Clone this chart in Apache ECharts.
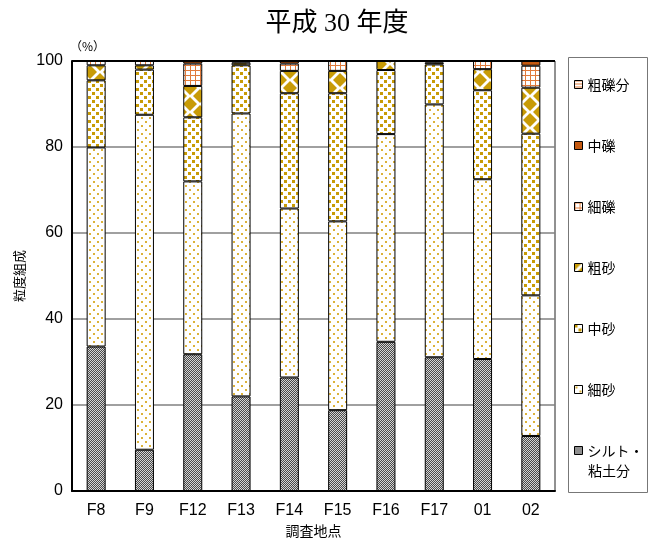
<!DOCTYPE html>
<html><head><meta charset="utf-8">
<script src="https://cdn.jsdelivr.net/npm/echarts@6/dist/echarts.min.js"></script>
<style>html,body{margin:0;padding:0;background:#fff}#c{width:650px;height:539px}</style>
</head><body><div id="c"></div>
<script>
// ---- data ----
var categories = ['F8','F9','F12','F13','F14','F15','F16','F17','01','02'];
var siltClay     = [33.6, 9.6, 31.8, 22.0, 26.4, 18.8, 34.7, 31.1, 30.7, 12.8];
var fineSand     = [46.3, 77.9, 40.2, 65.8, 39.3, 43.9, 48.3, 58.8, 41.8, 32.7];
var mediumSand   = [15.6, 10.5, 14.9, 11.2, 26.8, 29.8, 14.9, 9.3, 20.7, 37.6];
var coarseSand   = [3.5, 1.0, 7.3, 0.6, 5.2, 5.2, 2.1, 0.4, 4.9, 10.7];
var fineGravel   = [1.0, 1.0, 5.2, 0.4, 1.7, 2.3, 0.0, 0.4, 1.9, 5.1];
var mediumGravel = [0.0, 0.0, 0.6, 0.0, 0.6, 0.0, 0.0, 0.0, 0.0, 1.1];
var coarseGravel = [0, 0, 0, 0, 0, 0, 0, 0, 0, 0];
var seriesNames = ['シルト・粘土分','細砂','中砂','粗砂','細礫','中礫','粗礫分'];
var yTicks = [0, 20, 40, 60, 80, 100];

// ---- patterns ----
function mk(w, h, draw) {
  var c = document.createElement('canvas'); c.width = w; c.height = h;
  var g = c.getContext('2d'); g.fillStyle = '#fff'; g.fillRect(0, 0, w, h); draw(g);
  return { image: c, repeat: 'repeat' };
}
var GOLD = '#c89b06';
var pSilt = mk(2, 2, function (g) {
  g.fillStyle = '#4a4a4a'; g.fillRect(0, 0, 2, 2);
  g.fillStyle = '#d4d4d4'; g.fillRect(0, 0, 1, 1); g.fillRect(1, 1, 1, 1);
});
var pFine = mk(8, 8, function (g) {
  g.fillStyle = '#dcb23a'; g.fillRect(1, 1, 2, 2); g.fillRect(5, 5, 2, 2);
});
var pMed = mk(8, 8, function (g) {
  g.fillStyle = GOLD; g.fillRect(0, 0, 3, 3); g.fillRect(4, 4, 3, 3);
});
var pCoarse = mk(20, 16, function (g) {
  g.fillStyle = GOLD;
  function d(x, y) { g.beginPath(); g.moveTo(x, y - 7); g.lineTo(x + 7, y); g.lineTo(x, y + 7); g.lineTo(x - 7, y); g.closePath(); g.fill(); }
  d(10, 8); d(0, 0); d(20, 0); d(0, 16); d(20, 16);
});
var pFineG = mk(5, 5, function (g) {
  g.fillStyle = '#e07b3c'; g.fillRect(0, 0, 5, 1); g.fillRect(0, 0, 1, 5);
});
var pMedG = '#c55a11';
var pCoarseG = mk(4, 3, function (g) {
  g.fillStyle = '#e07b3c'; g.fillRect(0, 0, 4, 1);
});
var fills = [pSilt, pFine, pMed, pCoarse, pFineG, pMedG, pCoarseG];
var values = [siltClay, fineSand, mediumSand, coarseSand, fineGravel, mediumGravel, coarseGravel];

var NUMF = "'Liberation Sans Narrow','Liberation Sans','Noto Sans CJK JP',sans-serif";
var CJKF = "'Noto Sans CJK JP',sans-serif";

var series = seriesNames.map(function (n, i) {
  return {
    name: n, type: 'bar', stack: 'all', barWidth: 19,
    data: values[i],
    itemStyle: { color: fills[i], borderColor: '#000', borderWidth: 1 },
    emphasis: { disabled: true }
  };
});

var chart = echarts.init(document.getElementById('c'), null, { renderer: 'canvas' });
chart.setOption({
  animation: false,
  title: {
    text: '平成 30 年度', left: 332, textAlign: 'center', top: 6,
    textStyle: { fontFamily: "'Liberation Serif','DejaVu Serif','Noto Sans CJK JP',serif", fontSize: 26, fontWeight: 'normal', color: '#000' }
  },
  grid: { left: 72, right: 95, top: 61, bottom: 48, show: true, borderColor: '#222', borderWidth: 1,
    outerBoundsMode: 'none', containLabel: false },
  legend: {
    orient: 'vertical', left: 574, top: 74, height: 420, padding: 0,
    itemGap: 40, itemWidth: 8, itemHeight: 8, icon: 'rect',
    data: seriesNames.slice().reverse(),
    formatter: function (n) { return n === 'シルト・粘土分' ? 'シルト・' : n; },
    textStyle: { fontFamily: CJKF, fontSize: 14, color: '#000', lineHeight: 21 },
    itemStyle: { borderColor: '#000', borderWidth: 1 },
    selectedMode: false
  },
  xAxis: {
    type: 'category', data: categories,
    name: '調査地点', nameLocation: 'middle', nameGap: 29,
    nameTextStyle: { fontFamily: CJKF, fontSize: 14, color: '#000' },
    axisLine: { lineStyle: { color: '#000', width: 2 } },
    axisTick: { show: false },
    axisLabel: { fontFamily: NUMF, fontSize: 16, color: '#000', margin: 12 }
  },
  yAxis: {
    type: 'value', min: 0, max: 100, interval: 20,
    name: '粒度組成', nameLocation: 'middle', nameGap: 46, nameRotate: 90,
    nameTextStyle: { fontFamily: CJKF, fontSize: 13, color: '#000' },
    axisLine: { show: true, lineStyle: { color: '#000', width: 2 } },
    axisTick: { show: false },
    axisLabel: { fontFamily: NUMF, fontSize: 16, color: '#000', margin: 9,
      formatter: function (v) { return yTicks.indexOf(v) >= 0 ? String(v) : ''; } },
    splitLine: { lineStyle: { color: '#808080', width: 1.5 } }
  },
  graphic: [
    { type: 'rect', shape: { x: 568.5, y: 57.5, width: 79, height: 435 }, style: { fill: 'none', stroke: '#777', lineWidth: 1 }, z: -1 },
    { type: 'line', shape: { x1: 72, y1: 61, x2: 555, y2: 61 }, style: { stroke: '#000', lineWidth: 2 }, z: 10 },
    { type: 'text', left: 588, top: 464, style: { text: '粘土分', fontFamily: CJKF, fontSize: 14, fill: '#000' } },
    { type: 'text', left: 70, top: 40, style: { text: '（%）', fontFamily: CJKF, fontSize: 12, fill: '#000' } }
  ],
  series: series
});
</script></body></html>
